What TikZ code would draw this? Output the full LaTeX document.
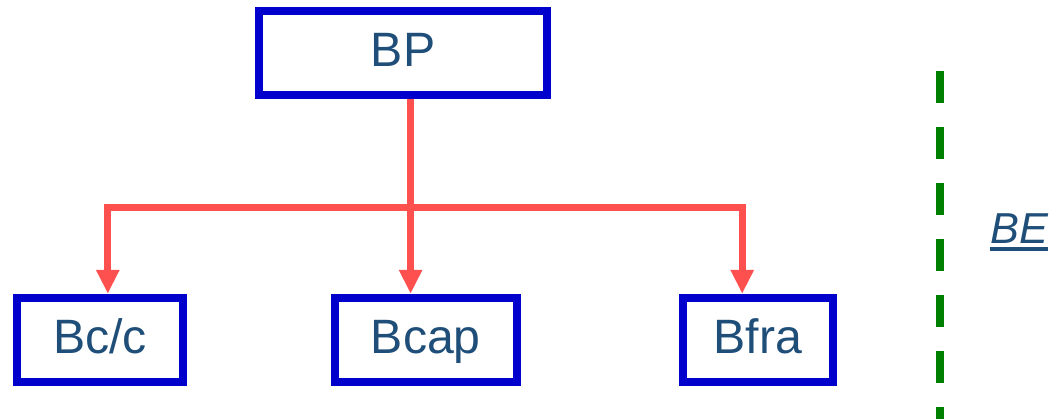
\documentclass[tikz,border=0pt]{standalone}
\usepackage{fontspec}
\setmainfont{Liberation Sans}
\usetikzlibrary{positioning,arrows.meta}

\definecolor{boxblue}{RGB}{0,0,204}
\definecolor{textblue}{RGB}{31,78,121}
\definecolor{linkred}{RGB}{255,80,80}
\definecolor{sepgreen}{RGB}{0,128,0}

\begin{document}
\begin{tikzpicture}[node distance=4.875cm, >={Triangle[width=0.55cm,length=0.6cm]}]

% Define styles
\tikzstyle{unit} = [rectangle, minimum height=2.1cm, text height=0.9cm, text depth=0.2cm, text centered, draw=boxblue, fill=white, line width=0.2cm, text=textblue, font=\fontsize{34.3}{40}\selectfont]
\tikzstyle{link} = [line width=0.175cm, draw=linkred, ->]
\tikzstyle{sep} = [line width=0.2cm, draw=sepgreen, dash pattern=on 0.8cm off 0.6cm]

\useasboundingbox (0,0) rectangle (26.275,-10.475);

% PARENT
\node (bp) [unit, minimum width=7.2cm] at (10.075,-1.319) {BP};

% CHILDREN
\node (bcc) [unit, minimum width=4.14cm, below=of bp, xshift=-7.57cm] {Bc/c};
\node (bcap) [unit, minimum width=4.54cm, below=of bp, xshift=0.57cm] {Bcap};
\node (bfra) [unit, minimum width=3.76cm, below=of bp, xshift=8.87cm] {Bfra};

% Links
\coordinate (bus) at (10.26,-5.175);
\draw [link] ([xshift=0.19cm]bp.south) -- ([xshift=0.19cm]bp.south |- bcap.north);
\draw [link, <->, line join=miter] ([xshift=0.19cm]bcc.north) |- (bus) -| ([xshift=-0.39cm]bfra.north);

% Separator
\coordinate (septop) at (23.5,-1.775);
\coordinate (sepbot) at (23.5,-10.475);
\draw [sep] (septop) -- (sepbot);

% BE label
\node (be) [anchor=base, inner sep=0, text=textblue, font=\fontsize{30.8}{36}\selectfont\itshape] at (25.475,-6.075) {BE};
\draw [textblue, line width=0.1cm] ([yshift=-0.15cm]be.base west) -- ([yshift=-0.15cm]be.base east);

\end{tikzpicture}
\end{document}
